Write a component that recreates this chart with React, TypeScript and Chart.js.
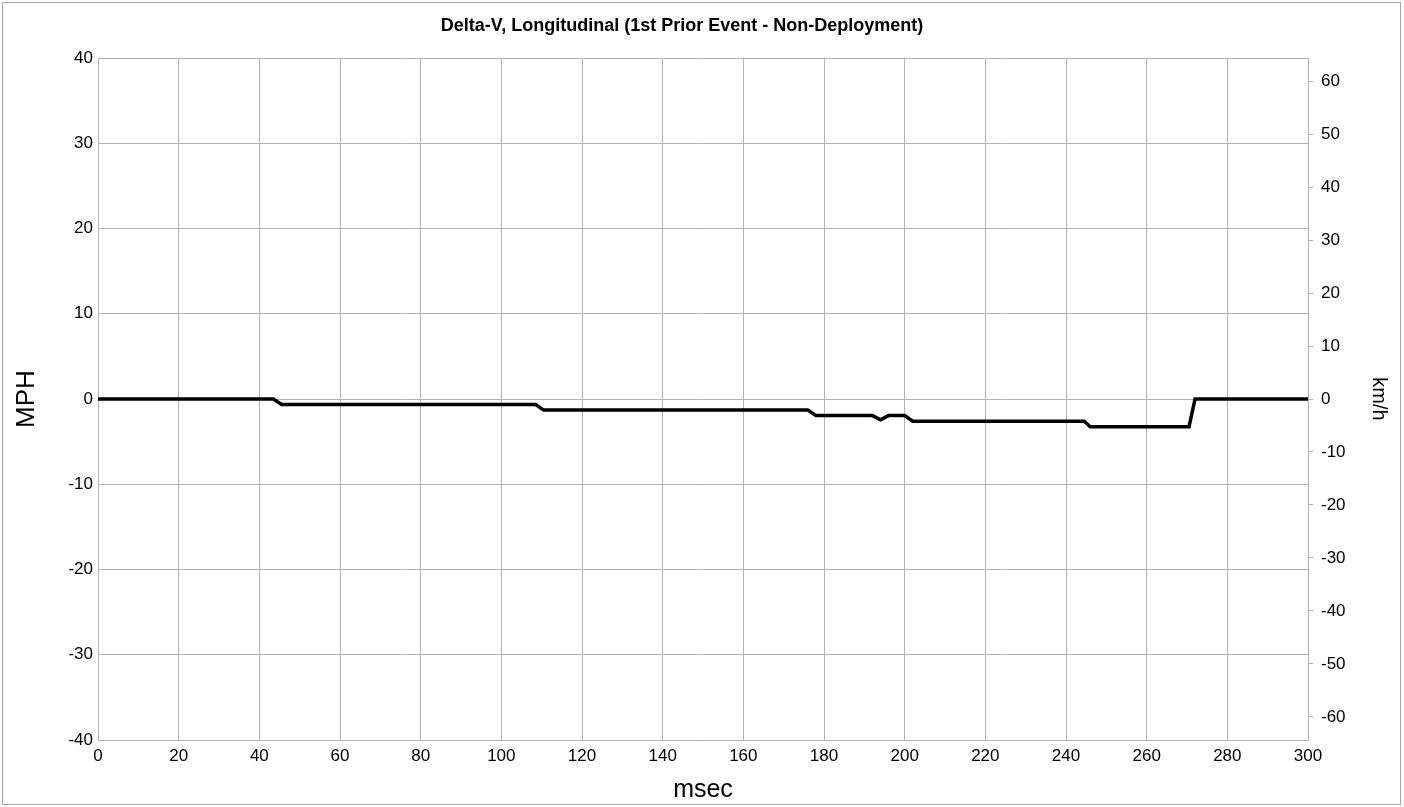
import React, { useEffect, useRef } from "react";
import { Chart, registerables } from "chart.js";

Chart.register(...registerables);

const TITLE = "Delta-V, Longitudinal (1st Prior Event - Non-Deployment)";
const X_TITLE = "msec";
const Y_TITLE = "MPH";
const Y2_TITLE = "km/h";

// time (msec) of each breakpoint of the trace
const timeMs = [0, 43.5, 45.5, 108.5, 110.5, 176, 178, 192, 194, 196, 200, 202, 244.5, 246, 270.5, 272, 300];
// delta-V (MPH) at each breakpoint
const deltaVMph = [0, 0, -0.65, -0.65, -1.3, -1.3, -1.95, -1.95, -2.45, -1.95, -1.95, -2.6, -2.6, -3.25, -3.25, 0, 0];

const mphTicks = [-40, -30, -20, -10, 0, 10, 20, 30, 40];
const kmhTicks = [-60, -50, -40, -30, -20, -10, 0, 10, 20, 30, 40, 50, 60];
const msecTicks = [0, 20, 40, 60, 80, 100, 120, 140, 160, 180, 200, 220, 240, 260, 280, 300];

const KMH_PER_MPH = 1.609344;
const FONT = "'Liberation Sans', Arial, sans-serif";
const GRID = "#b3b3b3";

export default function App() {
  const ref = useRef<HTMLCanvasElement | null>(null);

  useEffect(() => {
    if (!ref.current) return;
    const data = timeMs.map((t, i) => ({ x: t, y: deltaVMph[i] }));
    const frame = {
      id: "frame",
      afterDraw(chart: any) {
        const c = chart.ctx;
        c.save();
        c.strokeStyle = "#a6a6a6";
        c.lineWidth = 1;
        c.strokeRect(2.5, 2.5, 1398, 802);
        c.fillStyle = "#000";
        c.font = "bold 18px " + FONT;
        c.textAlign = "center";
        c.textBaseline = "middle";
        c.fillText(TITLE, 682, 26);
        c.restore();
      },
    };
    const chart = new Chart(ref.current, {
      type: "line",
      data: {
        datasets: [
          {
            data,
            borderColor: "#000000",
            borderWidth: 3.5,
            pointRadius: 0,
            tension: 0,
            yAxisID: "y",
          },
        ],
      },
      options: {
        animation: false,
        responsive: false,
        layout: { padding: { top: 58, left: 0, right: 0, bottom: 0 } },
        plugins: {
          legend: { display: false },
          tooltip: { enabled: false },
          title: { display: false },
        },
        scales: {
          x: {
            type: "linear",
            min: 0,
            max: 300,
            afterBuildTicks: (s: any) => {
              s.ticks = msecTicks.map((v) => ({ value: v }));
            },
            afterFit: (s: any) => {
              s.height = 67;
            },
            grid: { color: GRID, drawTicks: false, lineWidth: 1 },
            border: { color: GRID },
            ticks: { color: "#000", font: { family: FONT, size: 17 }, padding: 6, maxRotation: 0, autoSkip: false },
            title: { display: true, text: X_TITLE, color: "#000", font: { family: FONT, size: 25 }, padding: { top: 0, bottom: 2 } },
          },
          y: {
            type: "linear",
            position: "left",
            min: -40,
            max: 40,
            afterBuildTicks: (s: any) => {
              s.ticks = mphTicks.map((v) => ({ value: v }));
            },
            afterFit: (s: any) => {
              s.width = 98;
            },
            grid: { color: GRID, drawTicks: false, lineWidth: 1 },
            border: { color: GRID },
            ticks: { color: "#000", font: { family: FONT, size: 17 }, padding: 5 },
            title: { display: true, text: Y_TITLE, color: "#000", font: { family: FONT, size: 26 }, padding: { top: 11.4, bottom: 0 } },
          },
          y2: {
            type: "linear",
            position: "right",
            min: -40 * KMH_PER_MPH,
            max: 40 * KMH_PER_MPH,
            afterBuildTicks: (s: any) => {
              s.ticks = kmhTicks.map((v) => ({ value: v }));
            },
            afterFit: (s: any) => {
              s.width = 96;
            },
            grid: { color: GRID, drawOnChartArea: false, drawTicks: true, tickLength: 5 },
            border: { color: GRID },
            ticks: { color: "#000", font: { family: FONT, size: 17 }, padding: 8 },
            title: { display: true, text: Y2_TITLE, color: "#000", font: { family: FONT, size: 20 }, padding: { top: 13.5, bottom: 0 } },
          },
        },
      },
      plugins: [frame],
    } as any);
    return () => chart.destroy();
  }, []);

  return (
    <div style={{ position: "absolute", left: 0, top: 0, width: 1404, height: 807, background: "#fff" }}>
      <canvas ref={ref} width={1404} height={807} />
    </div>
  );
}
